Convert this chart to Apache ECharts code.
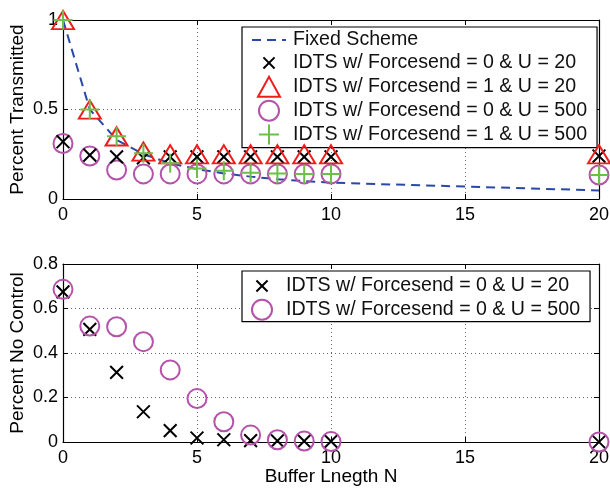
<!DOCTYPE html>
<html>
<head>
<meta charset="utf-8">
<script src="https://cdn.jsdelivr.net/npm/echarts@6/dist/echarts.min.js"></script>
<style>html,body{margin:0;padding:0;background:#fff}#c{width:610px;height:489px}</style>
</head>
<body>
<div id="c"></div>
<script>
// Buffer length N
const bufferN = [0, 1, 2, 3, 4, 5, 6, 7, 8, 9, 10, 20];
const xTicks = [0, 5, 10, 15, 20];

// Top: Percent Transmitted
const fixedScheme   = [1.0, 0.50, 0.33, 0.25, 0.20, 0.167, 0.143, 0.125, 0.111, 0.10, 0.091, 0.048];
const fs0u20Top     = [0.32, 0.245, 0.235, 0.23, 0.235, 0.235, 0.235, 0.235, 0.235, 0.235, 0.235, 0.24];
const fs1u20Top     = [1.0, 0.50, 0.35, 0.265, 0.25, 0.25, 0.25, 0.25, 0.25, 0.25, 0.25, 0.25];
const fs0u500Top    = [0.31, 0.24, 0.162, 0.14, 0.14, 0.14, 0.14, 0.14, 0.14, 0.14, 0.14, 0.134];
const fs1u500Top    = [1.0, 0.50, 0.35, 0.255, 0.20, 0.17, 0.158, 0.147, 0.142, 0.14, 0.14, 0.134];

// Bottom: Percent No Control
const fs0u20Bot     = [0.675, 0.506, 0.313, 0.136, 0.051, 0.018, 0.01, 0.006, 0.005, 0.004, 0.003, 0.0];
const fs0u500Bot    = [0.686, 0.521, 0.518, 0.451, 0.324, 0.195, 0.091, 0.031, 0.01, 0.004, 0.002, 0.0];

const legendNames = [
  'Fixed Scheme',
  'IDTS w/ Forcesend = 0 & U = 20',
  'IDTS w/ Forcesend = 1 & U = 20',
  'IDTS w/ Forcesend = 0 & U = 500',
  'IDTS w/ Forcesend = 1 & U = 500'
];

const FONT = 'Liberation Sans, Arial, Helvetica, sans-serif';
const CROSS = 'path://M-4,-4M14,14M0,0L10,10M10,0L0,10';
const PLUS = 'path://M5,0L5,10M0,5L10,5';
const TRI = 'path://M0,20L11,0L22,20Z';
const RED = '#f01c1c', MAG = '#b552aa', GRN = '#6cbf48', BLUE = '#2a48a8';
const GRIDC = '#666';

const pairs = (ys) => bufferN.map((x, i) => [x, ys[i]]);

function xAxisPair(gridIndex, showName) {
  return [
    {
      type: 'value', gridIndex, min: 0, max: 20, interval: 5,
      axisLine: {show: true, onZero: false, lineStyle: {color: '#000', width: 1.2}},
      axisTick: {show: true, inside: true, length: 5, lineStyle: {color: '#000'}},
      axisLabel: {color: '#000', fontSize: 18, fontFamily: FONT, margin: 7},
      splitLine: {show: true, lineStyle: {color: GRIDC, type: [1, 3], width: 1}},
      name: showName ? 'Buffer Lnegth N' : '', nameLocation: 'middle', nameGap: 25,
      nameMoveOverlap: false,
      nameTextStyle: {color: '#000', fontSize: 19, fontFamily: FONT}
    },
    {
      type: 'value', gridIndex, min: 0, max: 20, interval: 5, position: 'top',
      axisLine: {show: true, onZero: false, lineStyle: {color: '#000', width: 1.2}},
      axisTick: {show: true, inside: true, length: 5, lineStyle: {color: '#000'}},
      axisLabel: {show: false}, splitLine: {show: false}
    }
  ];
}

function yAxisPair(gridIndex, max, interval, name) {
  return [
    {
      type: 'value', gridIndex, min: 0, max, interval,
      axisLine: {show: true, onZero: false, lineStyle: {color: '#000', width: 1.2}},
      axisTick: {show: true, inside: true, length: 5, lineStyle: {color: '#000'}},
      axisLabel: {color: '#000', fontSize: 18, fontFamily: FONT, margin: 5},
      splitLine: {show: true, lineStyle: {color: GRIDC, type: [1, 3], width: 1}},
      name, nameLocation: 'middle', nameGap: 36, nameRotate: 90, nameMoveOverlap: false,
      nameTextStyle: {color: '#000', fontSize: 19, fontFamily: FONT}
    },
    {
      type: 'value', gridIndex, min: 0, max, interval, position: 'right',
      axisLine: {show: true, onZero: false, lineStyle: {color: '#000', width: 1.2}},
      axisTick: {show: true, inside: true, length: 5, lineStyle: {color: '#000'}},
      axisLabel: {show: false}, splitLine: {show: false}
    }
  ];
}

function scat(name, data, xi, yi, symbol, size, color, z) {
  return {
    name, type: 'scatter', xAxisIndex: xi, yAxisIndex: yi, data, symbol, symbolSize: size,
    symbolKeepAspect: true, clip: false, z,
    itemStyle: {color: 'rgba(0,0,0,0)', borderColor: color, borderWidth: 2, opacity: 1},
    emphasis: {disabled: true}
  };
}

const legendCommon = {
  orient: 'vertical', left: 242,
  backgroundColor: '#fff', borderColor: '#000', borderWidth: 1.2,
  itemWidth: 34, itemHeight: 20, symbolKeepAspect: true,
  textStyle: {color: '#111', fontSize: 19.6, fontFamily: FONT, padding: [0, 0, 0, 2]},
  selectedMode: false
};

const chart = echarts.init(document.getElementById('c'), null, {renderer: 'canvas'});
chart.setOption({
  animation: false,
  backgroundColor: '#fff',
  grid: [
    {left: 63, right: 11, top: 20, height: 179, containLabel: false, outerBoundsMode: 'none'},
    {left: 63, right: 11, top: 264, height: 178, containLabel: false, outerBoundsMode: 'none'}
  ],
  xAxis: [...xAxisPair(0, false), ...xAxisPair(1, true)],
  yAxis: [...yAxisPair(0, 1, 0.5, 'Percent Transmitted'), ...yAxisPair(1, 0.8, 0.2, 'Percent No Control')],
  legend: [
    Object.assign({}, legendCommon, {
      data: legendNames, top: 27, padding: [3, 10, 2, 9], itemGap: 1.9
    }),
    Object.assign({}, legendCommon, {
      data: [legendNames[1], legendNames[3]], top: 271, padding: [4, 10, 1, 9], itemGap: 1.7
    })
  ],
  series: [
    {
      name: legendNames[0], type: 'line', xAxisIndex: 0, yAxisIndex: 0, data: pairs(fixedScheme),
      symbol: 'none', smooth: false, z: 2,
      lineStyle: {color: BLUE, width: 2, type: [9, 6]}, itemStyle: {color: 'rgba(0,0,0,0)'},
      emphasis: {disabled: true}
    },
    scat(legendNames[3], pairs(fs0u500Top), 0, 0, 'circle', 19, MAG, 3),
    scat(legendNames[1], pairs(fs0u20Top), 0, 0, CROSS, 23, '#000', 4),
    scat(legendNames[2], pairs(fs1u20Top), 0, 0, TRI, [22, 20], RED, 5),
    scat(legendNames[4], pairs(fs1u500Top), 0, 0, PLUS, 19, GRN, 6),
    scat(legendNames[1], pairs(fs0u20Bot), 2, 2, CROSS, 23, '#000', 4),
    scat(legendNames[3], pairs(fs0u500Bot), 2, 2, 'circle', 19, MAG, 5)
  ]
});
</script>
</body>
</html>
